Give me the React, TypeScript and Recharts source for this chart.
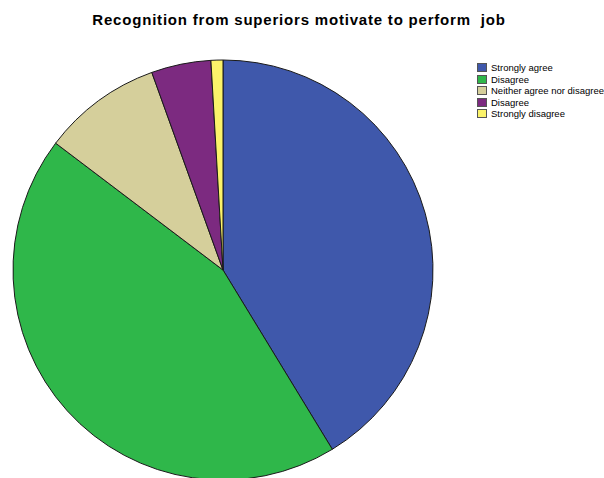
import { Cell, Legend, Pie, PieChart } from "recharts";

const labels = [
  "Strongly agree",
  "Disagree",
  "Neither agree nor disagree",
  "Disagree",
  "Strongly disagree",
];
const counts = [45, 48, 10, 5, 1];
const colors = ["#3f58ab", "#2fb74a", "#d5cf9b", "#7c2a80", "#fbf36a"];

const data = labels.map((name, i) => ({ name, value: counts[i], key: `s${i}` }));

function SpssLegend() {
  return (
    <div style={{ fontFamily: "Arial, 'Liberation Sans', sans-serif", fontSize: 9.5, color: "#000" }}>
      {labels.map((l, i) => (
        <div key={i} style={{ display: "flex", alignItems: "center", height: 11.5 }}>
          <span
            style={{
              display: "inline-block",
              width: 10,
              height: 9,
              background: colors[i],
              border: "1px solid #555",
              boxSizing: "border-box",
              marginRight: 4,
            }}
          />
          <span>{l}</span>
        </div>
      ))}
    </div>
  );
}

export default function App() {
  return (
    <div style={{ position: "absolute", left: 0, top: 0, width: 604, height: 478, background: "#fff" }}>
      <PieChart width={604} height={478} margin={{ top: 0, right: 0, bottom: 0, left: 0 }}>
        <text
          x={299}
          y={25}
          textAnchor="middle"
          xmlSpace="preserve"
          style={{
            fontFamily: "Arial, 'Liberation Sans', sans-serif",
            fontSize: 15,
            fontWeight: "bold",
            letterSpacing: 0.8,
            whiteSpace: "pre",
            fill: "#000",
          }}
        >
          Recognition from superiors motivate to perform  job
        </text>
        <Pie
          data={data}
          dataKey="value"
          nameKey="key"
          cx={223}
          cy={270}
          outerRadius={210}
          startAngle={90}
          endAngle={-270}
          stroke="#1a1a1a"
          strokeWidth={1}
          isAnimationActive={false}
        >
          {data.map((d, i) => (
            <Cell key={d.key} fill={colors[i]} />
          ))}
        </Pie>
        <Legend
          layout="vertical"
          verticalAlign="top"
          align="right"
          wrapperStyle={{ top: 62, left: 477, width: 127 }}
          content={<SpssLegend />}
        />
      </PieChart>
    </div>
  );
}
